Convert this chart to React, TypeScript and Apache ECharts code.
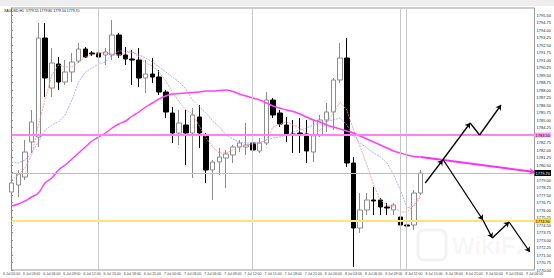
import React, { useEffect, useRef } from "react";
import * as echarts from "echarts";

const categories = [
  "6 Jul 00:00","6 Jul 01:00","6 Jul 02:00","6 Jul 03:00","6 Jul 04:00","6 Jul 05:00","6 Jul 06:00","6 Jul 07:00",
  "6 Jul 08:00","6 Jul 09:00","6 Jul 10:00","6 Jul 11:00","6 Jul 12:00","6 Jul 13:00","6 Jul 14:00","6 Jul 15:00",
  "6 Jul 16:00","6 Jul 17:00","6 Jul 18:00","6 Jul 19:00","6 Jul 20:00","6 Jul 21:00","6 Jul 22:00","6 Jul 23:00",
  "7 Jul 00:00","7 Jul 01:00","7 Jul 02:00","7 Jul 03:00","7 Jul 04:00","7 Jul 05:00","7 Jul 06:00","7 Jul 07:00",
  "7 Jul 08:00","7 Jul 09:00","7 Jul 10:00","7 Jul 11:00","7 Jul 12:00","7 Jul 13:00","7 Jul 14:00","7 Jul 15:00",
  "7 Jul 16:00","7 Jul 17:00","7 Jul 18:00","7 Jul 19:00","7 Jul 20:00","7 Jul 21:00","7 Jul 22:00","7 Jul 23:00",
  "8 Jul 00:00","8 Jul 01:00","8 Jul 02:00","8 Jul 03:00","8 Jul 04:00","8 Jul 05:00","8 Jul 06:00","8 Jul 07:00",
  "8 Jul 08:00","8 Jul 09:00","8 Jul 10:00","8 Jul 11:00","8 Jul 12:00","8 Jul 13:00","8 Jul 14:00","8 Jul 15:00",
  "8 Jul 16:00","8 Jul 17:00","8 Jul 18:00","8 Jul 19:00","8 Jul 20:00","8 Jul 21:00","8 Jul 22:00","8 Jul 23:00",
  "9 Jul 00:00","9 Jul 01:00","9 Jul 02:00","9 Jul 03:00","9 Jul 04:00","9 Jul 05:00","9 Jul 06:00"
];

const opens = [1777.8,1778.5,1779.3,1782.8,1783.3,1793.2,1788.2,1790.6,1788.8,1789.8,1790.9,1792.1,1791.7,1791.7,1791.5,1791.5,1793.5,1791.5,1791.1,1791.0,1789.2,1789.6,1789.3,1787.8,1785.7,1783.7,1784.5,1783.7,1785.3,1783.5,1780.0,1780.8,1781.2,1781.5,1782.3,1782.3,1782.7,1781.9,1782.7,1787.0,1785.7,1784.5,1783.6,1783.7,1783.6,1781.8,1783.5,1785.0,1785.8,1789.0,1791.2,1780.7,1774.2,1776.0,1777.0,1777.0,1776.3,1776.0,1775.3,1774.5,1774.5,1777.7];
const closes = [1778.7,1779.6,1781.8,1784.8,1793.2,1789.2,1790.7,1788.8,1789.8,1790.8,1792.1,1791.3,1791.6,1791.3,1791.8,1793.5,1791.5,1791.1,1791.0,1789.2,1789.6,1789.3,1787.8,1785.8,1783.7,1784.7,1783.7,1785.5,1783.7,1780.0,1780.8,1781.3,1781.6,1782.3,1782.7,1782.5,1782.0,1782.7,1787.0,1785.5,1784.6,1783.5,1783.5,1783.6,1781.9,1783.5,1785.0,1785.8,1789.0,1791.2,1780.7,1774.2,1776.0,1777.0,1776.9,1776.3,1776.2,1776.5,1774.5,1774.4,1777.7,1779.7];
const lows = [1777.3,1777.3,1779.0,1781.7,1782.3,1787.3,1787.3,1788.0,1788.5,1788.8,1790.7,1791.2,1791.4,1791.2,1790.5,1791.0,1791.2,1790.5,1788.5,1788.3,1787.7,1788.7,1787.5,1785.2,1782.7,1782.5,1780.5,1779.2,1782.2,1778.7,1777.0,1779.5,1778.2,1780.7,1781.8,1781.5,1781.8,1781.7,1782.5,1785.2,1784.3,1782.8,1781.7,1781.7,1780.7,1780.8,1783.3,1783.8,1784.0,1788.7,1780.3,1770.3,1773.7,1775.5,1775.5,1775.5,1775.5,1775.5,1774.2,1774.2,1774.0,1777.5];
const highs = [1779.2,1780.0,1783.0,1786.0,1794.7,1794.7,1792.2,1791.3,1791.0,1791.7,1792.7,1792.3,1791.9,1792.7,1792.2,1795.0,1793.7,1792.3,1792.0,1792.2,1791.0,1791.2,1790.0,1788.0,1786.3,1786.0,1786.0,1786.2,1786.5,1783.7,1781.0,1782.2,1782.0,1782.5,1783.0,1784.7,1784.2,1783.2,1787.8,1787.2,1786.0,1785.3,1785.0,1785.2,1785.0,1785.0,1785.5,1786.7,1789.2,1792.7,1793.2,1781.3,1777.7,1777.7,1778.3,1777.2,1776.7,1776.7,1775.5,1774.8,1778.0,1780.0];

const maSlow = [1776.4,1776.6,1776.9,1777.3,1777.7,1778.7,1779.2,1780.0,1780.5,1781.1,1781.7,1782.3,1782.9,1783.3,1783.7,1784.2,1784.6,1784.9,1785.4,1785.8,1786.3,1786.7,1787.1,1787.4,1787.6,1787.65,1787.7,1787.75,1787.8,1787.9,1787.9,1787.95,1788.0,1787.85,1787.6,1787.4,1787.2,1787.0,1786.7,1786.4,1786.2,1786.0,1785.85,1785.6,1785.3,1785.0,1784.8,1784.5,1784.3,1784.1,1783.9,1783.7,1783.4,1783.1,1782.8,1782.5,1782.2,1781.9,1781.7,1781.5,1781.35,1781.3];
const maFast = [1779.0,1779.5,1780.2,1781.5,1784.5,1787.0,1789.5,1790.5,1790.3,1790.3,1790.8,1791.3,1791.5,1791.7,1791.7,1791.6,1791.5,1791.7,1791.8,1791.3,1790.7,1790.4,1789.8,1788.9,1787.8,1786.8,1786.0,1785.6,1784.4,1783.2,1782.3,1781.7,1781.7,1782.0,1782.3,1782.5,1782.6,1782.7,1783.0,1784.3,1784.6,1784.8,1784.5,1784.2,1783.7,1783.3,1784.0,1784.7,1785.7,1786.8,1786.0,1784.0,1782.3,1780.5,1778.5,1777.0,1776.5,1776.3,1775.8,1775.8,1776.5,1777.5];
const maMid = [1780.8,1780.7,1781.0,1781.7,1782.8,1784.0,1784.5,1784.8,1785.5,1787.0,1788.8,1789.8,1790.2,1790.6,1790.8,1791.5,1791.9,1791.9,1791.8,1791.5,1791.2,1790.8,1790.3,1789.8,1789.3,1788.8,1788.1,1787.0,1786.3,1785.7,1784.9,1784.3,1783.5,1783.1,1782.8,1782.7,1782.7,1782.7,1783.0,1783.2,1783.3,1783.5,1783.8,1784.0,1784.2,1784.5,1784.7,1784.9,1785.0,1785.2,1784.5,1783.5,1782.7,1782.2,1781.7,1781.3,1780.7,1779.5,1778.0,1776.2,1776.4,1777.3];

// projection of slow MA (bar index, price)
const maProjection = [[61, 1781.3], [78, 1779.8]];
// forecast arrows: [from, to] in (bar index, price)
const arrowSegments = [
  [[61.7, 1778.7], [64.3, 1781.0]],
  [[64.3, 1781.0], [68.4, 1784.7]],
  [[69.8, 1783.5], [73.0, 1786.5]],
  [[64.4, 1781.0], [70.3, 1775.0]],
  [[70.3, 1775.0], [71.7, 1773.2]],
  [[71.7, 1773.2], [74.2, 1774.8]],
  [[74.2, 1774.8], [77.3, 1771.8]]
];
const plainSegments = [[[68.4, 1784.7], [69.8, 1783.5]]];

const resistanceLevel = 1783.5;
const supportLevel = 1774.9;
const lastPrice = 1779.7;
const separators = [13, 35.9, 58, 58.9];

export default function App() {
  const ref = useRef<HTMLDivElement>(null);
  useEffect(() => {
    document.body.style.margin = "0";
    const chart = echarts.init(ref.current!, null, { renderer: "svg" });
    const candles = opens.map((o, i) => [o, closes[i], lows[i], highs[i]]);
    const tabs: any[] = [];
    for (let k = 0; k < 9; k++) {
      tabs.push({ type: "rect", shape: { x: 2 + k * 19, y: 0.5, width: 17, height: 4 }, style: { fill: "#f7f7f7", stroke: "#c8c8c8", lineWidth: 0.5 } });
    }
    chart.setOption({
      animation: false,
      backgroundColor: "#ffffff",
      grid: { left: 2, right: 11, top: 8, bottom: 8, show: true, borderColor: "#9a9a9a", borderWidth: 1, backgroundColor: "#fff" },
      xAxis: [
        {
          type: "category", data: categories, boundaryGap: false,
          axisLine: { show: false }, axisTick: { show: false },
          axisLabel: { fontSize: 3.5, color: "#444", interval: 2, margin: 2, fontFamily: "Liberation Sans" },
          splitLine: { show: false }
        },
        { type: "value", min: 0, max: 78, show: false }
      ],
      yAxis: {
        type: "value", position: "right", min: 1770, max: 1796.2, interval: 0.75,
        axisLine: { show: true, lineStyle: { color: "#888" } },
        axisTick: { show: true, length: 1.5, lineStyle: { color: "#888" } },
        axisLabel: { fontSize: 4, color: "#222", margin: 2, showMaxLabel: false, fontFamily: "Liberation Sans", formatter: (v: number) => v.toFixed(2) },
        splitLine: { show: false }
      },
      graphic: [
        { type: "rect", shape: { x: 0, y: 0, width: 554, height: 6 }, style: { fill: "#eeeeee" }, z: 100 },
        { type: "group", children: tabs, z: 101 },
        { type: "text", x: 4, y: 8.5, style: { text: "XAUUSD,H1  1779.55 1779.80 1779.50 1779.70", fontSize: 3.5, fill: "#111", fontFamily: "Liberation Sans" }, z: 100 },
        { type: "rect", shape: { x: 418, y: 230, width: 28, height: 30, r: 6 }, style: { fill: "none", stroke: "rgba(0,0,0,0.05)", lineWidth: 3 }, z: 1 },
        { type: "text", x: 452, y: 233, style: { text: "WikiFX", fontSize: 24, fontWeight: "bold", fill: "rgba(0,0,0,0.045)", fontFamily: "Liberation Sans" }, z: 1 }
      ],
      series: [
        {
          type: "line", xAxisIndex: 1, data: [], silent: true,
          markLine: {
            silent: true, symbol: "none", label: { show: false },
            lineStyle: { color: "#c8c8c8", width: 1, type: "solid" },
            data: separators.map((s) => ({ xAxis: s }))
          }
        },
        {
          type: "candlestick", data: candles, barWidth: 5, clip: false,
          itemStyle: { color: "#ffffff", color0: "#000000", borderColor: "#8c8c8c", borderColor0: "#000000", borderWidth: 1 },
          markLine: {
            silent: true, symbol: "none",
            data: [
              { yAxis: lastPrice, lineStyle: { color: "#bdbdbd", width: 1, type: "solid" }, label: { show: true, position: "end", distance: 0, formatter: lastPrice.toFixed(2), fontSize: 4, color: "#fff", backgroundColor: "#000", padding: [1, 1] } },
              { yAxis: resistanceLevel, lineStyle: { color: "#ff80f7", width: 2, type: "solid" }, label: { show: true, position: "end", distance: 0, formatter: resistanceLevel.toFixed(2), fontSize: 4, color: "#000", backgroundColor: "#ff9cf7", padding: [0.5, 1] } },
              { yAxis: supportLevel, lineStyle: { color: "#ffe27a", width: 2, type: "solid" }, label: { show: true, position: "end", distance: 0, formatter: supportLevel.toFixed(2), fontSize: 4, color: "#000", backgroundColor: "#ffd84a", padding: [0.5, 1] } }
            ]
          }
        },
        { type: "line", data: maFast, symbol: "none", lineStyle: { color: "#ff8a8a", width: 0.8, type: [2, 1] }, z: 3 },
        { type: "line", data: maMid, symbol: "none", lineStyle: { color: "#9a9aff", width: 0.8, type: [2, 1] }, z: 3 },
        { type: "line", data: maSlow, symbol: "none", smooth: true, lineStyle: { color: "#ff40ff", width: 1.5 }, z: 4 },
        {
          type: "lines", coordinateSystem: "cartesian2d", xAxisIndex: 1, yAxisIndex: 0,
          symbol: ["none", "arrow"], symbolSize: 5, z: 5,
          lineStyle: { color: "#ff2ef5", width: 2, opacity: 1 },
          data: [{ coords: maProjection }]
        },
        {
          type: "lines", coordinateSystem: "cartesian2d", xAxisIndex: 1, yAxisIndex: 0,
          symbol: ["none", "arrow"], symbolSize: 5, z: 6,
          lineStyle: { color: "#000", width: 1.3, opacity: 1 },
          data: arrowSegments.map((c) => ({ coords: c }))
        },
        {
          type: "lines", coordinateSystem: "cartesian2d", xAxisIndex: 1, yAxisIndex: 0,
          symbol: ["none", "none"], z: 6,
          lineStyle: { color: "#000", width: 1.3, opacity: 1 },
          data: plainSegments.map((c) => ({ coords: c }))
        }
      ]
    });
    return () => chart.dispose();
  }, []);
  return <div ref={ref} style={{ position: "fixed", left: 0, top: 0, width: 554, height: 278 }} />;
}
